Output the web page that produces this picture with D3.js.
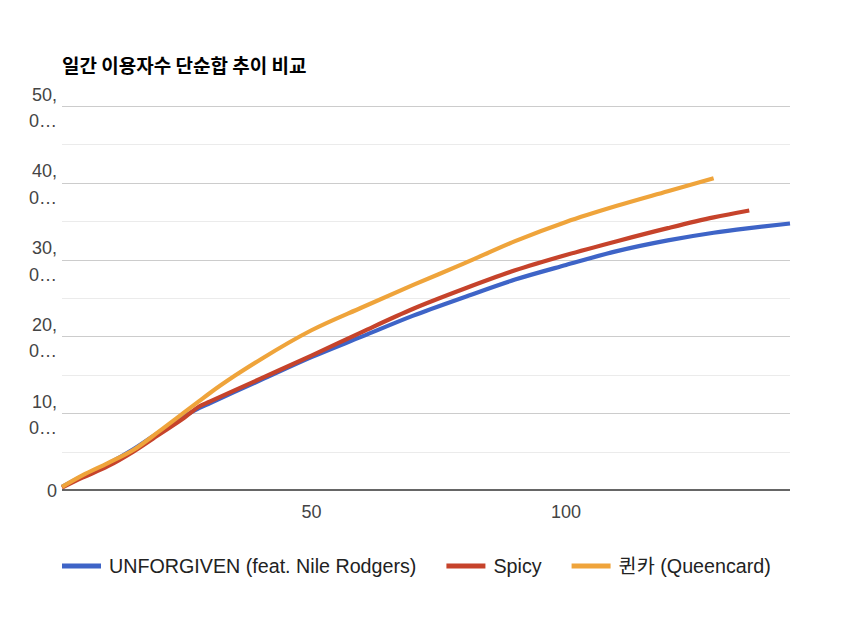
<!DOCTYPE html>
<html>
<head>
<meta charset="utf-8">
<script src="https://cdn.jsdelivr.net/npm/d3@7"></script>
<style>
  html, body { margin: 0; padding: 0; background: #fff; }
  svg { display: block; }
</style>
</head>
<body>
<svg id="chart" width="850" height="625"></svg>
<script>
// ---- data (values in millions of users) ----
const title = "일간 이용자수 단순합 추이 비교";
const days = [1, 5, 10, 15, 20, 25, 28, 30, 35, 40, 50, 60, 70, 80, 90, 100, 110, 120, 129, 136, 144];
const seriesNames = ["UNFORGIVEN (feat. Nile Rodgers)", "Spicy", "퀸카 (Queencard)"];
const unforgiven = [0.4, 1.8, 3.4, 5.3, 7.5, 9.6, 10.7, 11.3, 12.8, 14.3, 17.3, 20.0, 22.7, 25.1, 27.4, 29.3, 31.1, 32.5, 33.5, 34.1, 34.7];
const spicy = [0.3, 1.6, 3.1, 5.0, 7.2, 9.4, 10.9, 11.5, 13.0, 14.5, 17.5, 20.6, 23.6, 26.2, 28.6, 30.6, 32.4, 34.1, 35.5, 36.4];
const queencard = [0.4, 1.9, 3.5, 5.2, 7.6, 10.1, 11.6, 12.6, 14.9, 17.0, 20.8, 23.8, 26.7, 29.5, 32.4, 34.9, 37.0, 38.9, 40.6];
const colors = ["#3e64c7", "#c6432b", "#efa43b"];
const yTicks = [0, 10, 20, 30, 40, 50];
const yTickLabels = [["0"], ["10,", "0…"], ["20,", "0…"], ["30,", "0…"], ["40,", "0…"], ["50,", "0…"]];
const yMinorTicks = [5, 15, 25, 35, 45];
const xTicks = [50, 100];

// ---- layout ----
const svg = d3.select("#chart");
const plotLeft = 62, plotRight = 790, plotTop = 106, plotBottom = 490;
const x = d3.scaleLinear().domain([1, 144]).range([plotLeft, plotRight]);
const y = d3.scaleLinear().domain([0, 50]).range([plotBottom, plotTop]);
const labelFont = "'Liberation Sans', Arial, 'Noto Sans CJK KR', sans-serif";

// title
svg.append("text")
  .attr("x", 62).attr("y", 73)
  .attr("font-family", "'Noto Sans CJK KR', sans-serif")
  .attr("font-weight", "bold")
  .attr("font-size", 19)
  .attr("fill", "#000")
  .text(title);

// gridlines
svg.append("g").selectAll("line").data(yMinorTicks).join("line")
  .attr("x1", plotLeft).attr("x2", plotRight)
  .attr("y1", d => Math.round(y(d)) + 0.5).attr("y2", d => Math.round(y(d)) + 0.5)
  .attr("stroke", "#ebebeb").attr("stroke-width", 1);
svg.append("g").selectAll("line").data(yTicks.filter(d => d > 0)).join("line")
  .attr("x1", plotLeft).attr("x2", plotRight)
  .attr("y1", d => Math.round(y(d)) + 0.5).attr("y2", d => Math.round(y(d)) + 0.5)
  .attr("stroke", "#cccccc").attr("stroke-width", 1);

// y labels
const yl = svg.append("g").attr("font-family", labelFont).attr("font-size", 18).attr("fill", "#444").attr("text-anchor", "end");
yTicks.forEach((t, i) => {
  const lines = yTickLabels[i];
  const gy = y(t);
  if (lines.length === 1) {
    yl.append("text").attr("x", 57).attr("y", gy + 6.5).text(lines[0]);
  } else {
    yl.append("text").attr("x", 57).attr("y", gy - 5.5).text(lines[0]);
    yl.append("text").attr("x", 57).attr("y", gy + 21).text(lines[1]);
  }
});

// x labels
svg.append("g").attr("font-family", labelFont).attr("font-size", 18).attr("fill", "#444").attr("text-anchor", "middle")
  .selectAll("text").data(xTicks).join("text")
  .attr("x", d => x(d)).attr("y", 518).text(d => d);

// series lines
const allSeries = [unforgiven, spicy, queencard];
const line = d3.line().x(d => x(d[0])).y(d => y(d[1])).curve(d3.curveMonotoneX);
allSeries.forEach((vals, i) => {
  const pts = vals.map((v, j) => [days[j], v]);
  svg.append("path")
    .attr("d", line(pts))
    .attr("fill", "none")
    .attr("stroke", colors[i])
    .attr("stroke-width", 4.2)
    .attr("stroke-linejoin", "round")
    .attr("stroke-linecap", "butt");
});

// baseline axis
svg.append("line")
  .attr("x1", plotLeft).attr("x2", plotRight)
  .attr("y1", y(0)).attr("y2", y(0))
  .attr("stroke", "#333").attr("stroke-width", 1.5);

// legend
const lg = svg.append("g").attr("font-family", labelFont).attr("font-size", 19.7).attr("fill", "#222");
let lx = 62;
const ly = 566;
seriesNames.forEach((name, i) => {
  lg.append("line").attr("x1", lx).attr("x2", lx + 39).attr("y1", ly).attr("y2", ly)
    .attr("stroke", colors[i]).attr("stroke-width", 5);
  const t = lg.append("text").attr("x", lx + 47).attr("y", ly + 7).text(name);
  const w = t.node().getComputedTextLength();
  lx = lx + 47 + w + 30;
});
</script>
</body>
</html>
